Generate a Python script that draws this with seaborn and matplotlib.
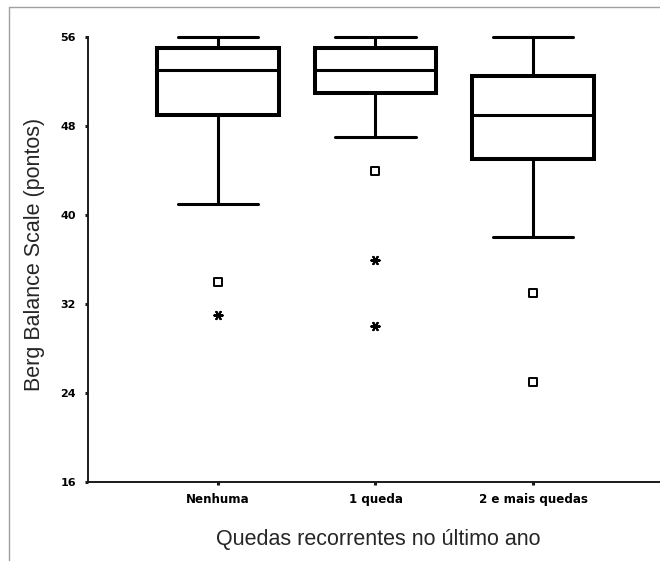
import numpy as np
import pandas as pd
import seaborn as sns
import matplotlib
matplotlib.use("Agg")
import matplotlib.pyplot as plt
from matplotlib.lines import Line2D

# Berg Balance Scale by number of falls in the last year
categories = ["Nenhuma", "1 queda", "2 e mais quedas"]
whisker_low = [41, 47, 38]
quartile_1 = [49, 51, 45]
medians = [53, 53, 49]
quartile_3 = [55, 55, 52.5]
whisker_high = [56, 56, 56]

# outliers (squares) and extremes (asterisks)
outlier_groups = ["Nenhuma", "1 queda", "2 e mais quedas", "2 e mais quedas"]
outlier_values = [34, 44, 33, 25]
extreme_groups = ["Nenhuma", "1 queda", "1 queda"]
extreme_values = [31, 36, 30]

y_ticks = [16, 24, 32, 40, 48, 56]

# five-number summary per group, drawn with whiskers at min/max
rows = []
for cat, lo, q1, md, q3, hi in zip(categories, whisker_low, quartile_1,
                                   medians, quartile_3, whisker_high):
    for v in (lo, q1, md, q3, hi):
        rows.append({"grupo": cat, "pontos": v})
box_df = pd.DataFrame(rows)
out_df = pd.DataFrame({"grupo": outlier_groups, "pontos": outlier_values})
ext_df = pd.DataFrame({"grupo": extreme_groups, "pontos": extreme_values})

sns.set_style("white")
plt.rcParams["font.family"] = ["Liberation Sans", "DejaVu Sans"]

fig = plt.figure(figsize=(6.6, 5.61), dpi=100)
ax = fig.add_axes([88 / 660, 79 / 561, 572 / 660, 445 / 561])

sns.boxplot(
    data=box_df, x="grupo", y="pontos", order=categories,
    whis=(0, 100), width=0.77, color="white", linecolor="black",
    linewidth=2.9, showfliers=False, capwidths=0.51,
    whiskerprops={"linewidth": 2.2}, capprops={"linewidth": 2.2},
    medianprops={"linewidth": 2.2}, ax=ax,
)
sns.stripplot(
    data=out_df, x="grupo", y="pontos", order=categories, jitter=False,
    marker="s", size=5.5, color="white", edgecolor="black", linewidth=1.4,
    ax=ax,
)
sns.stripplot(
    data=ext_df, x="grupo", y="pontos", order=categories, jitter=False,
    marker=(6, 2, 90), size=6, color="black", edgecolor="black",
    linewidth=1.5, ax=ax,
)
for coll in ax.collections[-1:]:
    coll.set_edgecolor("black")
    coll.set_linewidth(1.5)

for art in ax.get_children():
    try:
        art.set_clip_on(False)
    except Exception:
        pass

ax.set_xlim(-0.825, 2.806)
ax.set_ylim(16, 56)
ax.set_yticks(y_ticks)
ax.set_yticklabels([str(t) for t in y_ticks],
                   family="DejaVu Sans", weight="bold", size=8)
ax.set_xticks(range(len(categories)))
ax.set_xticklabels(categories, family="DejaVu Sans", weight="bold", size=8.6)

for side in ("top", "right"):
    ax.spines[side].set_visible(False)
for side in ("left", "bottom"):
    ax.spines[side].set_linewidth(1.4)
    ax.spines[side].set_color("#1a1a1a")
ax.tick_params(axis="both", direction="out", length=2.2, width=2.2,
               color="#1a1a1a", labelcolor="black", left=True, bottom=True)
ax.tick_params(axis="y", pad=6.5)
ax.tick_params(axis="x", pad=5.5)

ax.set_xlabel("Quedas recorrentes no último ano", fontsize=15.5)
ax.set_ylabel("Berg Balance Scale (pontos)", fontsize=15.5)
ax.xaxis.set_label_coords((378 - 88) / 572, -(540 - 482) / 445)
ax.yaxis.set_label_coords(-(88 - 35) / 572, (482 - 254) / 445)
ax.xaxis.label.set_va("center")
ax.yaxis.label.set_va("center")

# outer frame of the chart window
fig.add_artist(Line2D([9 / 660, 1], [1 - 7 / 561, 1 - 7 / 561],
                      transform=fig.transFigure, color="#a0a0a0", lw=1))
fig.add_artist(Line2D([9 / 660, 9 / 660], [0, 1 - 7 / 561],
                      transform=fig.transFigure, color="#a0a0a0", lw=1))

fig.savefig("out.png", dpi=100)
